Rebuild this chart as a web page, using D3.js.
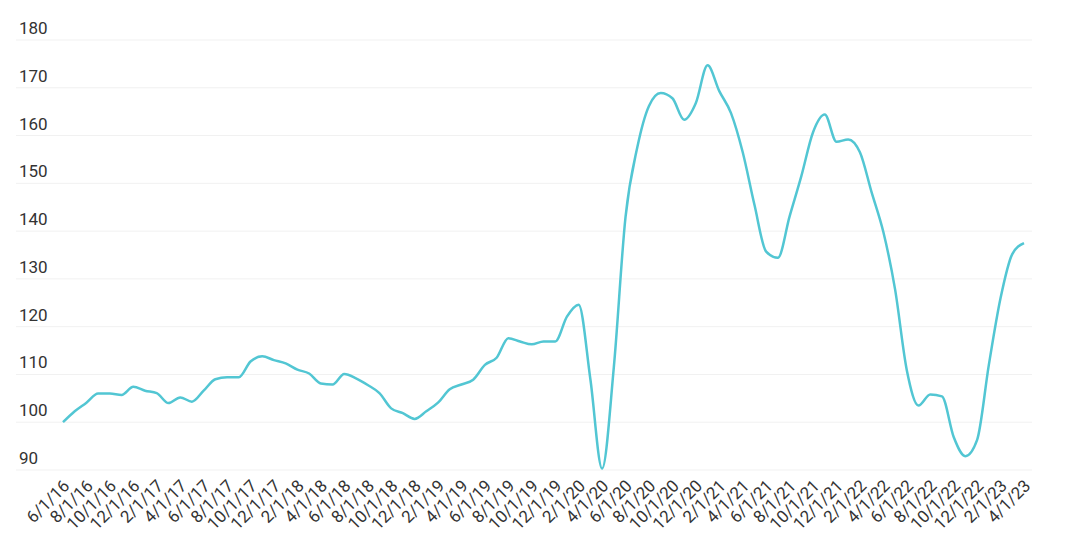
<!DOCTYPE html>
<html><head><meta charset="utf-8">
<script src="https://cdn.jsdelivr.net/npm/d3@7"></script>
<style>
html,body{margin:0;padding:0;background:#fff;}
svg{display:block;font-family:Roboto, "Open Sans", sans-serif;}
</style></head>
<body>
<svg id="chart" width="1065" height="545"></svg>
<script>
const months = ["6/1/16","7/1/16","8/1/16","9/1/16","10/1/16","11/1/16","12/1/16","1/1/17","2/1/17","3/1/17","4/1/17","5/1/17","6/1/17","7/1/17","8/1/17","9/1/17","10/1/17","11/1/17","12/1/17","1/1/18","2/1/18","3/1/18","4/1/18","5/1/18","6/1/18","7/1/18","8/1/18","9/1/18","10/1/18","11/1/18","12/1/18","1/1/19","2/1/19","3/1/19","4/1/19","5/1/19","6/1/19","7/1/19","8/1/19","9/1/19","10/1/19","11/1/19","12/1/19","1/1/20","2/1/20","3/1/20","4/1/20","5/1/20","6/1/20","7/1/20","8/1/20","9/1/20","10/1/20","11/1/20","12/1/20","1/1/21","2/1/21","3/1/21","4/1/21","5/1/21","6/1/21","7/1/21","8/1/21","9/1/21","10/1/21","11/1/21","12/1/21","1/1/22","2/1/22","3/1/22","4/1/22","5/1/22","6/1/22","7/1/22","8/1/22","9/1/22","10/1/22","11/1/22","12/1/22","1/1/23","2/1/23","3/1/23","4/1/23"];
const values = [100.0,102.3,104.1,106.0,106.0,105.7,107.4,106.6,106.1,104.0,105.2,104.3,106.6,109.0,109.4,109.4,
  112.7,113.8,113.0,112.3,111.0,110.2,108.1,107.9,110.1,109.2,107.8,106.1,102.9,101.9,100.7,102.3,104.1,106.9,107.9,108.9,
  112.0,113.5,117.6,116.9,116.3,116.9,116.9,122.1,124.6,109.0,90.3,111.5,143.0,157.5,166.2,168.9,167.8,163.3,166.8,174.7,
  169.3,164.7,156.5,145.5,135.7,134.4,143.1,151.5,160.7,164.4,158.7,159.2,156.5,148.1,139.8,127.8,110.9,103.5,105.8,105.4,
  96.9,92.9,96.3,112.0,126.0,135.2,137.5];
const yTicks = [90,100,110,120,130,140,150,160,170,180];
const xTickLabels = months.filter((d,i)=>i%2===0);

const svg = d3.select("#chart");
const x = d3.scalePoint().domain(months).range([63,1024]);
const y = d3.scaleLinear().domain([90,180]).range([470,40]);

// grid
svg.append("g").selectAll("line").data(yTicks).join("line")
  .attr("x1",16).attr("x2",1032)
  .attr("y1",d=>y(d)).attr("y2",d=>y(d))
  .attr("stroke","#f1f1f1").attr("stroke-width",1);

// y labels
svg.append("g").selectAll("text").data(yTicks).join("text")
  .attr("x",19).attr("y",d=>y(d)-6)
  .attr("font-size",17).attr("fill","#333")
  .text(d=>d);

// x labels
const xAxis = d3.axisBottom(x).tickValues(xTickLabels).tickSize(0).tickPadding(0);
const gx = svg.append("g").attr("transform","translate(0,470)").call(xAxis);
gx.select(".domain").remove();
gx.selectAll("text")
  .attr("font-family","Roboto, sans-serif")
  .attr("font-size",17).attr("fill","#333")
  .attr("text-anchor","end")
  .attr("dy",0).attr("y",0)
  .attr("transform","translate(7,17) rotate(-45)");

// line
const line = d3.line().x((d,i)=>x(months[i])).y(d=>y(d)).curve(d3.curveMonotoneX);
svg.append("path").datum(values)
  .attr("d",line).attr("fill","none")
  .attr("stroke","#52c6d3").attr("stroke-width",2.5)
  .attr("stroke-linejoin","round");
</script>
</body></html>
